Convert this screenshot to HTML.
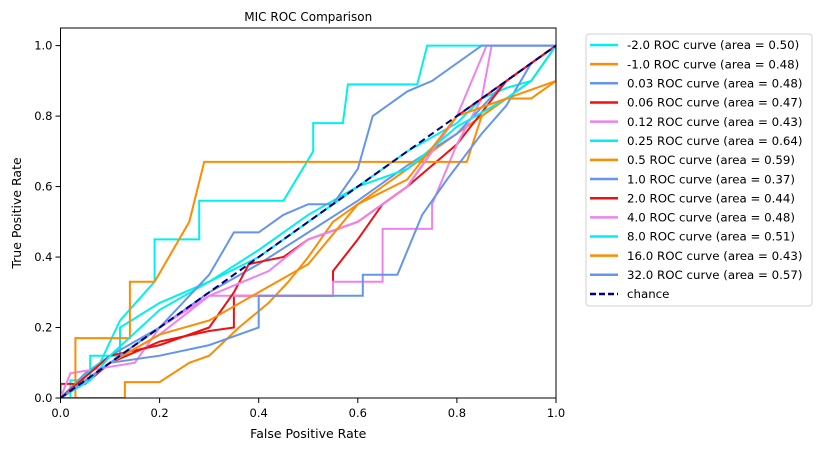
<!DOCTYPE html>
<html><head><meta charset="utf-8"><style>
body{margin:0;background:#fff;width:822px;height:451px;overflow:hidden;font-family:"DejaVu Sans","Liberation Sans",sans-serif;}
</style></head><body>
<svg id="chart" width="822" height="451" xmlns="http://www.w3.org/2000/svg" font-family="DejaVu Sans, Liberation Sans, sans-serif"></svg>
<script>
const labels=["-2.0","-1.0","0.03","0.06","0.12","0.25","0.5","1.0","2.0","4.0","8.0","16.0","32.0"];
const areas=["0.50","0.48","0.48","0.47","0.43","0.64","0.59","0.37","0.44","0.48","0.51","0.43","0.57"];
const colors=["#00f0f0","#ff8c00","#6495ed","#ee1111","#ee82ee"];
const fprs=[
[0,0.02,0.02,0.06,0.06,0.12,0.12,0.2,0.3,0.4,0.5,0.6,0.7,0.8,0.85,0.9,0.95,1],
[0,0.13,0.13,0.2,0.26,0.3,0.36,0.42,0.46,0.5,0.55,0.6,0.7,0.8,0.9,1,1],
[0,0.05,0.1,0.2,0.3,0.4,0.5,0.6,0.7,0.8,0.9,1],
[0,0,0.05,0.1,0.2,0.3,0.35,0.35,0.55,0.55,0.6,0.65,0.7,0.8,0.9,1],
[0,0.02,0.15,0.2,0.3,0.4,0.55,0.55,0.65,0.65,0.75,0.75,0.8,0.85,0.87,1],
[0,0.08,0.12,0.19,0.19,0.28,0.28,0.45,0.51,0.51,0.57,0.58,0.72,0.74,1],
[0,0.03,0.03,0.14,0.14,0.19,0.26,0.29,0.82,0.85,0.9,0.95,1],
[0,0.1,0.2,0.3,0.4,0.4,0.61,0.61,0.68,0.73,0.78,0.85,0.9,0.95,1],
[0,0.1,0.2,0.3,0.35,0.38,0.45,0.5,0.6,0.65,0.7,0.75,0.8,0.9,1],
[0,0.1,0.2,0.3,0.42,0.5,0.6,0.7,0.8,0.86,0.9,1],
[0,0.06,0.1,0.2,0.3,0.4,0.5,0.6,0.7,0.8,0.9,0.95,1],
[0,0.1,0.2,0.3,0.4,0.5,0.6,0.7,0.8,0.9,0.95,1,1],
[0,0.05,0.1,0.2,0.3,0.35,0.4,0.45,0.5,0.55,0.6,0.63,0.7,0.75,0.85,1]
];
const tprs=[
[0,0,0.05,0.05,0.12,0.12,0.2,0.27,0.33,0.4,0.5,0.6,0.7,0.78,0.85,0.88,0.9,1],
[0,0,0.045,0.045,0.1,0.12,0.2,0.27,0.33,0.4,0.5,0.55,0.65,0.75,0.85,0.9,1],
[0,0.07,0.12,0.2,0.3,0.38,0.47,0.56,0.66,0.75,0.9,1],
[0,0.04,0.04,0.1,0.16,0.19,0.2,0.29,0.29,0.36,0.45,0.55,0.6,0.72,0.9,1],
[0,0.07,0.1,0.2,0.29,0.29,0.29,0.33,0.33,0.48,0.48,0.55,0.72,0.85,1,1],
[0,0.1,0.22,0.33,0.45,0.45,0.56,0.56,0.7,0.78,0.78,0.89,0.89,1,1],
[0,0,0.17,0.17,0.33,0.33,0.5,0.67,0.67,0.8,0.85,0.9,1],
[0,0.1,0.12,0.15,0.2,0.29,0.29,0.35,0.35,0.52,0.62,0.75,0.83,0.95,1],
[0,0.12,0.15,0.2,0.3,0.38,0.4,0.45,0.5,0.55,0.6,0.7,0.8,0.9,1],
[0,0.1,0.18,0.29,0.36,0.45,0.5,0.6,0.8,1,1,1],
[0,0.05,0.12,0.25,0.33,0.42,0.52,0.6,0.65,0.77,0.85,0.9,1],
[0,0.1,0.18,0.22,0.3,0.38,0.55,0.62,0.8,0.85,0.85,0.9,1],
[0,0.05,0.1,0.2,0.35,0.47,0.47,0.52,0.55,0.55,0.65,0.8,0.87,0.9,1,1]
];
const xTicks=[0,0.2,0.4,0.6,0.8,1.0];
const yTicks=[0,0.2,0.4,0.6,0.8,1.0];
const X0=60.5,X1=556,Y0=398,YTOP=28;
const sx=v=>X0+v*(X1-X0);
const sy=v=>Y0-v*(Y0-YTOP)/1.05;
const svg=document.getElementById('chart');
const NS="http://www.w3.org/2000/svg";
function mk(tag,attrs,parent){const e=document.createElementNS(NS,tag);for(const k in attrs)e.setAttribute(k,attrs[k]);(parent||svg).appendChild(e);return e;}
const defs=mk('defs',{});const cp=mk('clipPath',{id:'pc'},defs);mk('rect',{x:X0,y:YTOP,width:X1-X0,height:Y0-YTOP},cp);
const g=mk('g',{'clip-path':'url(#pc)'});


fprs.forEach((f,i)=>{
  const pts=f.map((x,j)=>sx(x).toFixed(1)+','+sy(tprs[i][j]).toFixed(1)).join(' ');
  const p=mk('polyline',{points:pts,fill:'none',stroke:colors[i%5],'stroke-width':2,'stroke-linejoin':'miter'},g);
  
  
});
const ch=mk('line',{x1:sx(0),y1:sy(0),x2:sx(1),y2:sy(1),stroke:'#000080','stroke-width':2,'stroke-dasharray':'7,4'},g);


const fr=mk('rect',{x:X0,y:YTOP,width:X1-X0,height:Y0-YTOP,fill:'none',stroke:'#000','stroke-width':1});


xTicks.forEach(t=>{
  mk('line',{x1:sx(t),y1:Y0,x2:sx(t),y2:Y0+5,stroke:'#000'});
  const tx=mk('text',{x:sx(t),y:Y0+19,'font-size':11.5,'text-anchor':'middle'});tx.textContent=t.toFixed(1);
  
  
});
yTicks.forEach(t=>{
  mk('line',{x1:X0-5,y1:sy(t),x2:X0,y2:sy(t),stroke:'#000'});
  const tx=mk('text',{x:X0-8,y:sy(t)+4,'font-size':11.5,'text-anchor':'end'});tx.textContent=t.toFixed(1);
  
  
});
const tt=mk('text',{x:(X0+X1)/2,y:21,'font-size':12,'text-anchor':'middle'});tt.textContent='MIC ROC Comparison';


const xl=mk('text',{x:(X0+X1)/2,y:438,'font-size':12.5,'text-anchor':'middle'});xl.textContent='False Positive Rate';


const yl=mk('text',{x:21,y:(Y0+YTOP)/2,'font-size':12.5,'text-anchor':'middle',transform:'rotate(-90 21 '+((Y0+YTOP)/2)+')'});yl.textContent='True Positive Rate';


const lg=mk('g',{});


mk('rect',{x:586,y:34,width:226,height:272,rx:3,fill:'#fff',stroke:'#d0d0d0'},lg);
const entries=labels.map((l,i)=>({t:l+' ROC curve (area = '+areas[i]+')',c:colors[i%5],d:null}));
entries.push({t:'chance',c:'#000080',d:'7,4'});
entries.forEach((e,i)=>{
  const y=45+i*19.15;
  const eg=mk('g',{},lg);
  
  
  const ln=mk('line',{x1:590,y1:y,x2:618,y2:y,stroke:e.c,'stroke-width':2.5},eg);
  if(e.d)ln.setAttribute('stroke-dasharray','6,3');
  const tx=mk('text',{x:627,y:y+4.2,'font-size':11.8},eg);tx.textContent=e.t;
});
</script>
</body></html>
